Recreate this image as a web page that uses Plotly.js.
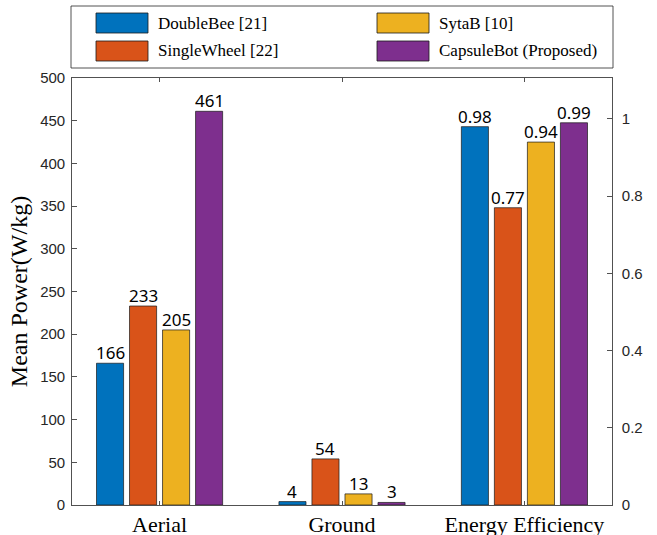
<!DOCTYPE html>
<html>
<head>
<meta charset="utf-8">
<script src="https://cdn.plot.ly/plotly-3.0.1.min.js"></script>
<style>html,body{margin:0;padding:0;background:#fff;}#chart{width:657px;height:535px;}</style>
</head>
<body>
<div id="chart"></div>
<script>
// ---- data ----
const categories = ['Aerial', 'Ground', 'Energy Efficiency'];
const seriesNames = ['DoubleBee [21]', 'SingleWheel [22]', 'SytaB [10]', 'CapsuleBot (Proposed)'];
const aerialPower = [166, 233, 205, 461];      // W/kg
const groundPower = [4, 54, 13, 3];            // W/kg
const energyEfficiency = [0.98, 0.77, 0.94, 0.99];
const leftTicks = [0, 50, 100, 150, 200, 250, 300, 350, 400, 450, 500];
const rightTicks = [0, 0.2, 0.4, 0.6, 0.8, 1];

// ---- styles ----
const colors = ['#0072BD', '#D95319', '#EDB120', '#7E2F8E'];
const W = 657, H = 535;
const M = {l: 72, r: 45, t: 78, b: 30};
const PW = W - M.l - M.r, PH = H - M.t - M.b;
const px2x = px => (px - M.l) / PW;
const py2y = py => (H - M.b - py) / PH;
const axisCol = '#262626';
const tickFont = {family: 'Liberation Sans, Arial, sans-serif', size: 15, color: axisCol};
const labelFont = {family: 'Noto Sans, sans-serif', size: 17, color: '#000'};
const serif = 'Liberation Serif, Times New Roman, serif';
const xRange = [-0.48, 2.48];
const bargap = 0.276, bargroupgap = 0.18;
const slotPx = (1 - bargap) / seriesNames.length * PW / (xRange[1] - xRange[0]);

const traces = [];
const annotations = [];
seriesNames.forEach((name, i) => {
  traces.push({
    type: 'bar', name: name, showlegend: false,
    x: [categories[0], categories[1]], y: [aerialPower[i], groundPower[i]],
    xaxis: 'x', yaxis: 'y',
    marker: {color: colors[i], line: {color: '#1a1a1a', width: 0.7}},
    hoverinfo: 'skip'
  });
  traces.push({
    type: 'bar', name: name, showlegend: false,
    x: [categories[2]], y: [energyEfficiency[i]],
    xaxis: 'x', yaxis: 'y2',
    marker: {color: colors[i], line: {color: '#1a1a1a', width: 0.7}},
    hoverinfo: 'skip'
  });
  const xs = (i - (seriesNames.length - 1) / 2) * slotPx;
  const lab = (cat, val, yref, txt) => annotations.push({
    xref: 'x', yref: yref, x: cat, y: val, xshift: xs, yshift: -3,
    xanchor: 'center', yanchor: 'bottom', showarrow: false, text: txt, font: labelFont
  });
  lab(categories[0], aerialPower[i], 'y', String(aerialPower[i]));
  lab(categories[1], groundPower[i], 'y', String(groundPower[i]));
  lab(categories[2], energyEfficiency[i], 'y2', energyEfficiency[i].toFixed(2));
});

// ---- manual legend (MATLAB style) ----
const shapes = [];
shapes.push({type: 'rect', xref: 'paper', yref: 'paper',
  x0: px2x(71), x1: px2x(613), y0: py2y(68), y1: py2y(6),
  line: {color: axisCol, width: 0.8}, fillcolor: 'rgba(0,0,0,0)', layer: 'above'});
const legendOrder = [0, 2, 1, 3]; // row-major: DoubleBee, SytaB / SingleWheel, CapsuleBot
const colX = [96, 377], rowY = [13, 41];
legendOrder.forEach((si, k) => {
  const c = k % 2, r = Math.floor(k / 2);
  shapes.push({type: 'rect', xref: 'paper', yref: 'paper',
    x0: px2x(colX[c]), x1: px2x(colX[c] + 52), y0: py2y(rowY[r] + 20), y1: py2y(rowY[r]),
    line: {color: '#1a1a1a', width: 0.8}, fillcolor: colors[si], layer: 'above'});
  annotations.push({xref: 'paper', yref: 'paper', x: px2x(colX[c] + 60), y: py2y(rowY[r] + 10),
    xanchor: 'left', yanchor: 'middle', showarrow: false, text: seriesNames[si],
    font: {family: serif, size: 17, color: '#000'}});
});

const layout = {
  width: W, height: H, margin: M,
  paper_bgcolor: '#fff', plot_bgcolor: '#fff',
  showlegend: false,
  barmode: 'group', bargap: bargap, bargroupgap: bargroupgap,
  xaxis: {
    type: 'category', categoryorder: 'array', categoryarray: categories,
    range: xRange, showgrid: false, zeroline: false,
    showline: true, linecolor: axisCol, linewidth: 0.8, mirror: 'ticks',
    ticks: 'inside', ticklen: 4, tickcolor: axisCol, tickwidth: 0.8,
    tickfont: {family: serif, size: 22, color: '#000'},
    ticklabelstandoff: 0
  },
  yaxis: {
    range: [0, 500], tickvals: leftTicks, ticktext: leftTicks.map(String),
    showgrid: false, zeroline: false, showline: true, linecolor: axisCol, linewidth: 0.8,
    ticks: 'inside', ticklen: 5, tickcolor: axisCol, tickwidth: 0.8,
    tickfont: tickFont, ticklabelstandoff: 3,
    title: {text: 'Mean Power(W/kg)', standoff: 5,
      font: {family: serif, size: 24, color: '#000'}}
  },
  yaxis2: {
    overlaying: 'y', side: 'right', range: [0, 1.106],
    tickvals: rightTicks, ticktext: rightTicks.map(String),
    showgrid: false, zeroline: false, showline: true, linecolor: axisCol, linewidth: 0.8,
    ticks: 'inside', ticklen: 5, tickcolor: axisCol, tickwidth: 0.8,
    tickfont: tickFont, ticklabelstandoff: 6
  },
  shapes: shapes, annotations: annotations
};

Plotly.newPlot('chart', traces, layout, {staticPlot: true, displayModeBar: false});
</script>
</body>
</html>
